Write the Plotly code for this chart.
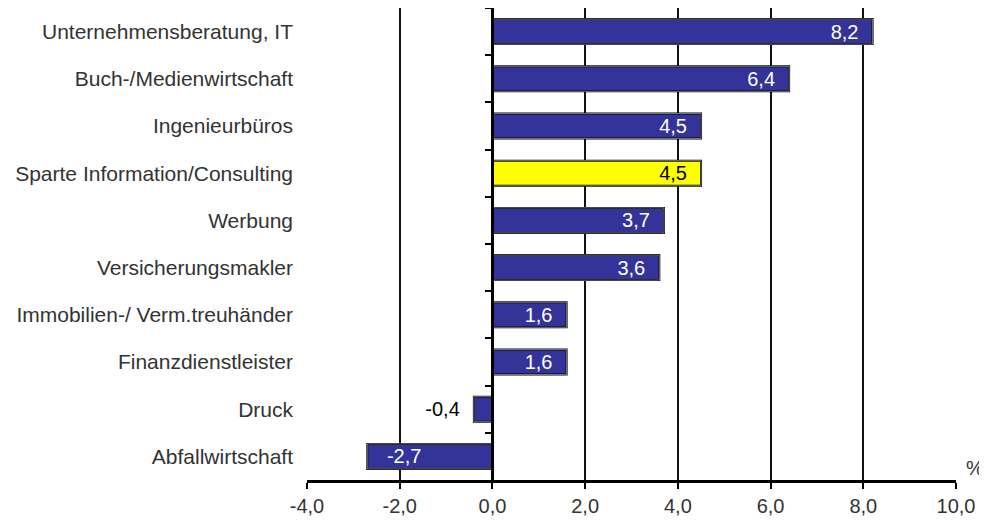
import plotly.graph_objects as go

categories = [
    "Unternehmensberatung, IT",
    "Buch-/Medienwirtschaft",
    "Ingenieurbüros",
    "Sparte Information/Consulting",
    "Werbung",
    "Versicherungsmakler",
    "Immobilien-/ Verm.treuhänder",
    "Finanzdienstleister",
    "Druck",
    "Abfallwirtschaft",
]
values = [8.2, 6.4, 4.5, 4.5, 3.7, 3.6, 1.6, 1.6, -0.4, -2.7]
highlight = "Sparte Information/Consulting"
x_ticks = [-4, -2, 0, 2, 4, 6, 8, 10]

BLUE = "#333399"
YELLOW = "#FFFF00"
FONT = "Liberation Sans, Arial, sans-serif"
NB = "\u00a0"


def de(v):
    return f"{v:.1f}".replace(".", ",")


colors = [YELLOW if c == highlight else BLUE for c in categories]
texts, positions, tcolors = [], [], []
for c, v in zip(categories, values):
    s = de(v)
    if -1 < v < 1:
        texts.append(s + NB * 2)
        positions.append("outside")
        tcolors.append("black")
    elif v > 0:
        texts.append(s + NB * 2)
        positions.append("inside")
        tcolors.append("black" if c == highlight else "white")
    else:
        texts.append(NB * 3 + s)
        positions.append("inside")
        tcolors.append("white")

fig = go.Figure()
fig.add_trace(go.Bar(
    x=values, y=categories, orientation="h",
    marker=dict(color=colors, line=dict(color="black", width=2)),
    text=texts, textposition=positions, insidetextanchor="end",
    constraintext="none",
    textfont=dict(family=FONT, size=20, color=tcolors),
    cliponaxis=False, showlegend=False, hoverinfo="skip",
))
# invisible companion trace to carry the zero-line axis with boundary ticks
fig.add_trace(go.Bar(
    x=values, y=categories, orientation="h", yaxis="y2",
    marker=dict(color="rgba(0,0,0,0)"), showlegend=False, hoverinfo="skip",
))

fig.update_layout(
    width=979, height=513,
    margin=dict(l=299, r=31, t=0, b=41),
    paper_bgcolor="white", plot_bgcolor="white",
    separators=",.",
    bargap=0.47, barmode="overlay",
    font=dict(family=FONT, size=20, color="#222"),
    xaxis=dict(
        range=[-4, 10], tickvals=x_ticks, ticktext=[de(t) for t in x_ticks],
        showgrid=True, gridcolor="#111", gridwidth=2,
        zeroline=False,
        showline=True, linecolor="black", linewidth=3,
        ticks="outside", ticklen=6, tickwidth=2, tickcolor="black",
        tickfont=dict(family=FONT, size=20, color="#333"),
        fixedrange=True,
    ),
    yaxis=dict(
        type="category", categoryorder="array", categoryarray=categories,
        autorange="reversed",
        showgrid=False, zeroline=False, showline=False, ticks="",
        ticklabelstandoff=13,
        tickfont=dict(family=FONT, size=21, color="#333"),
    ),
    yaxis2=dict(
        type="category", categoryorder="array", categoryarray=categories,
        overlaying="y", matches="y", anchor="free", position=4 / 14,
        showticklabels=False, showgrid=False, zeroline=False,
        showline=True, linecolor="black", linewidth=3,
        ticks="outside", tickson="boundaries", ticklen=6, tickwidth=2,
        tickcolor="black", layer="above traces",
    ),
    annotations=[dict(
        text="%", xref="paper", yref="paper", x=1.013, y=0.025,
        xanchor="left", yanchor="middle", showarrow=False,
        font=dict(family=FONT, size=20, color="#333"),
    )],
)

fig.write_html("out.html")
